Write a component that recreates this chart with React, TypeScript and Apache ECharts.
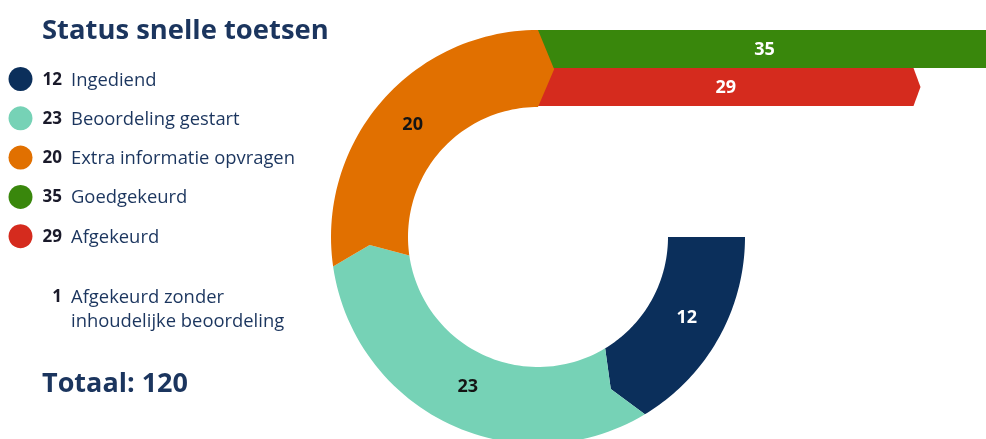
import { useEffect, useRef } from 'react';
import * as echarts from 'echarts';

const title = 'Status snelle toetsen';
const ringNames = ['Ingediend', 'Beoordeling gestart', 'Extra informatie opvragen'];
const ringValues = [12, 23, 20];
const ringColors = ['#0b2f5b', '#76d2b6', '#e17000'];
const ringLabelColors = ['#ffffff', '#141414', '#141414'];
const barNames = ['Goedgekeurd', 'Afgekeurd'];
const barValues = [35, 29];
const barColors = ['#39870c', '#d52b1e'];
const footnoteValue = 1;
const footnoteLines = ['Afgekeurd zonder', 'inhoudelijke beoordeling'];
const totalLabel = 'Totaal';
const totalValue = 120;

const FONT = '"Open Sans", "Noto Sans", sans-serif';
const NAVY_TEXT = '#1b355e';

export default function App() {
  const ref = useRef<HTMLDivElement>(null);
  useEffect(() => {
    if (!ref.current) return;
    const chart = echarts.init(ref.current, undefined, { renderer: 'svg' });

    const ringTotal = ringValues.reduce((a, b) => a + b, 0);
    const angleMax = (ringTotal * 360) / 270;
    const chevron = (5.5 / 360) * angleMax;
    const cum: number[][] = [];
    let acc = 0;
    ringValues.forEach((v) => {
      cum.push([acc, acc + v]);
      acc += v;
    });

    const legendNames = [...ringNames, ...barNames];
    const legendValues = [...ringValues, ...barValues];
    const legendColors = [...ringColors, ...barColors];

    const graphics: any[] = [
      {
        type: 'text',
        x: 42,
        y: 28,
        style: {
          text: title,
          font: `bold 27.4px ${FONT}`,
          fill: NAVY_TEXT,
          align: 'left',
          verticalAlign: 'middle',
        },
      },
    ];
    legendNames.forEach((name, i) => {
      const y = 79 + i * 39.3;
      graphics.push({
        type: 'circle',
        shape: { cx: 20.5, cy: y, r: 12 },
        style: { fill: legendColors[i] },
      });
      graphics.push({
        type: 'text',
        x: 62,
        y: y - 1,
        style: {
          text: String(legendValues[i]),
          font: `bold 17px ${FONT}`,
          fill: '#1a1a2a',
          align: 'right',
          verticalAlign: 'middle',
        },
      });
      graphics.push({
        type: 'text',
        x: 71,
        y: y - 1,
        style: {
          text: name,
          font: `18.4px ${FONT}`,
          fill: NAVY_TEXT,
          align: 'left',
          verticalAlign: 'middle',
        },
      });
    });
    graphics.push({
      type: 'text',
      x: 62,
      y: 295,
      style: {
        text: String(footnoteValue),
        font: `bold 17px ${FONT}`,
        fill: '#1a1a2a',
        align: 'right',
        verticalAlign: 'middle',
      },
    });
    footnoteLines.forEach((line, k) => {
      graphics.push({
        type: 'text',
        x: 71,
        y: 295 + k * 24,
        style: {
          text: line,
          font: `18.4px ${FONT}`,
          fill: NAVY_TEXT,
          align: 'left',
          verticalAlign: 'middle',
        },
      });
    });
    graphics.push({
      type: 'text',
      x: 42,
      y: 381,
      style: {
        text: `${totalLabel}: ${totalValue}`,
        font: `bold 27px ${FONT}`,
        fill: NAVY_TEXT,
        align: 'left',
        verticalAlign: 'middle',
      },
    });

    chart.setOption({
      animation: false,
      polar: { center: [538, 237], radius: [130, 207] },
      angleAxis: {
        type: 'value',
        min: 0,
        max: angleMax,
        startAngle: 0,
        clockwise: true,
        show: false,
      },
      radiusAxis: { type: 'value', min: 0, max: 1, show: false },
      grid: { left: 538, top: 30, height: 76, right: 0 },
      xAxis: { type: 'value', min: 0, max: 34.6, show: false },
      yAxis: { type: 'category', data: barNames, inverse: true, show: false },
      graphic: graphics,
      series: [
        {
          type: 'custom',
          coordinateSystem: 'cartesian2d',
          z: 2,
          silent: true,
          data: barValues.map((v, i) => ({ value: [v, i], name: barNames[i] })),
          encode: { x: 0, y: 1 },
          renderItem: (params: any, api: any) => {
            const v = api.value(0);
            const i = api.value(1);
            const p0 = api.coord([0, i]);
            const p1 = api.coord([v, i]);
            const h = api.size([0, 1])[1];
            const top = p0[1] - h / 2;
            const bot = p0[1] + h / 2;
            return {
              type: 'group',
              children: [
                {
                  type: 'polygon',
                  shape: {
                    points: [
                      [p0[0], top],
                      [p1[0], top],
                      [p1[0] + 7, p0[1]],
                      [p1[0], bot],
                      [p0[0], bot],
                    ],
                  },
                  style: { fill: barColors[params.dataIndex] },
                },
                {
                  type: 'text',
                  x: (p0[0] + p1[0]) / 2,
                  y: p0[1] - 1,
                  style: {
                    text: String(v),
                    font: `bold 18px ${FONT}`,
                    fill: '#ffffff',
                    align: 'center',
                    verticalAlign: 'middle',
                  },
                },
              ],
            };
          },
        },
        {
          type: 'custom',
          coordinateSystem: 'polar',
          z: 3,
          silent: true,
          data: ringValues.map((v, i) => ({
            value: [0.5, cum[i][0] + v / 2, cum[i][0], cum[i][1], i],
            name: ringNames[i],
          })),
          encode: { radius: 0, angle: 1 },
          renderItem: (params: any, api: any) => {
            const s = api.value(2);
            const e = api.value(3);
            const i = params.dataIndex;
            const N = 60;
            const pts: number[][] = [];
            for (let k = 0; k <= N; k++) pts.push(api.coord([1, s + ((e - s) * k) / N]));
            pts.push(api.coord([0.5, e + chevron]));
            for (let k = N; k >= 0; k--) pts.push(api.coord([0, s + ((e - s) * k) / N]));
            if (i > 0) pts.push(api.coord([0.5, s + chevron]));
            const c = api.coord([0.5, (s + e) / 2]);
            return {
              type: 'group',
              children: [
                { type: 'polygon', shape: { points: pts }, style: { fill: ringColors[i] } },
                {
                  type: 'text',
                  x: c[0] + 2,
                  y: c[1] - 4,
                  style: {
                    text: String(ringValues[i]),
                    font: `bold 18px ${FONT}`,
                    fill: ringLabelColors[i],
                    align: 'center',
                    verticalAlign: 'middle',
                  },
                },
              ],
            };
          },
        },
      ],
    });
    return () => chart.dispose();
  }, []);
  return (
    <div
      ref={ref}
      style={{ position: 'fixed', left: 0, top: 0, width: 986, height: 439 }}
    />
  );
}
